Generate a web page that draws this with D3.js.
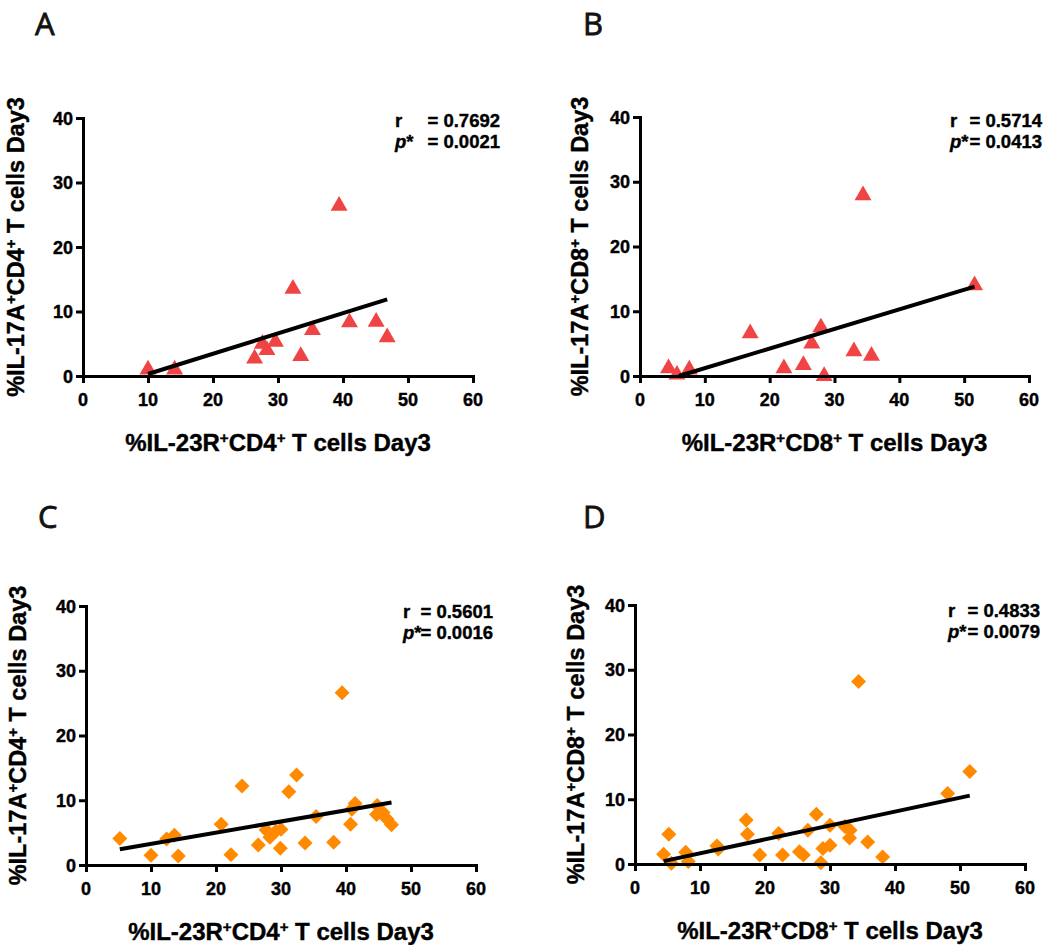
<!DOCTYPE html>
<html>
<head>
<meta charset="utf-8">
<script src="https://cdn.jsdelivr.net/npm/d3@7"></script>
<style>
  body { margin: 0; background: #fff; }
  svg { display: block; }
  .heavy { stroke: #000; stroke-width: 0.4px; }
</style>
</head>
<body>
<svg id="fig" width="1048" height="945"></svg>
<script>
// Axis ticks shared by all four panels
const xTicks = [0, 10, 20, 30, 40, 50, 60];
const yTicks = [0, 10, 20, 30, 40];

// A: IL-23R+CD4+ vs IL-17A+CD4+ (triangles)
const aX = [10.0, 14.1, 26.4, 27.6, 28.3, 29.6, 32.3, 33.5, 35.3, 39.4, 41.0, 45.1, 46.8];
const aY = [1.0, 1.0, 2.7, 5.0, 4.0, 5.3, 13.5, 3.1, 7.1, 26.4, 8.3, 8.4, 6.0];

// B: IL-23R+CD8+ vs IL-17A+CD8+ (triangles)
const bX = [4.4, 5.7, 7.6, 17.0, 22.2, 25.2, 26.5, 27.9, 28.4, 33.0, 35.7, 34.4, 51.6];
const bY = [1.2, 0.2, 1.0, 6.6, 1.2, 1.7, 5.0, 7.5, 0.0, 3.8, 3.1, 27.9, 14.0];

// C: IL-23R+CD4+ vs IL-17A+CD4+ (diamonds)
const cX = [5.2, 10.0, 12.4, 13.6, 14.2, 20.8, 22.3, 24.0, 26.5, 27.7, 28.3, 29.2, 30.0, 29.9,
            31.2, 32.4, 33.7, 35.4, 38.1, 39.4, 40.7, 40.9, 41.4, 44.7, 44.8, 45.7, 46.3, 47.0];
const cY = [4.1, 1.5, 4.0, 4.6, 1.4, 6.3, 1.6, 12.2, 3.1, 5.4, 4.3, 5.2, 5.5, 2.6,
            11.3, 13.9, 3.4, 7.5, 3.5, 26.6, 6.3, 8.6, 9.5, 7.8, 9.2, 8.1, 7.1, 6.2];

// D: IL-23R+CD8+ vs IL-17A+CD8+ (diamonds)
const dX = [4.4, 5.2, 5.6, 7.8, 8.2, 12.6, 12.8, 17.1, 17.3, 19.2, 22.1, 22.7, 25.3, 25.9,
            26.6, 27.9, 28.6, 28.9, 30.0, 30.0, 32.3, 33.1, 33.0, 34.4, 35.8, 38.1, 48.1, 51.5];
const dY = [1.5, 4.6, 0.1, 1.8, 0.4, 2.8, 2.3, 6.8, 4.6, 1.4, 4.7, 1.4, 1.9, 1.4,
            5.2, 7.7, 0.2, 2.4, 2.9, 6.0, 5.8, 5.2, 4.0, 28.2, 3.4, 1.1, 10.9, 14.3];

const panelLetters = ["A", "B", "C", "D"];
const rValues = ["0.7692", "0.5714", "0.5601", "0.4833"];
const pValues = ["0.0021", "0.0413", "0.0016", "0.0079"];
const cellTypes = ["CD4", "CD8", "CD4", "CD8"];
const markerKinds = ["triangle", "triangle", "diamond", "diamond"];

const series = [[aX, aY], [bX, bY], [cX, cY], [dX, dY]];

// Pixel frame of each panel
const frames = [
  { left: 83,  right: 473,  top: 118, bottom: 376, letterX: 35,  letterY: 35,  yTitleX: 24,  annL: 395, annR: 500,  annY: 127 },
  { left: 640, right: 1029, top: 117, bottom: 376, letterX: 583, letterY: 35,  yTitleX: 588, annL: 950, annR: 1042, annY: 127 },
  { left: 86,  right: 476,  top: 606, bottom: 865, letterX: 38,  letterY: 528, yTitleX: 26,  annL: 403, annR: 493,  annY: 618 },
  { left: 635, right: 1025, top: 605, bottom: 864, letterX: 583, letterY: 528, yTitleX: 584, annL: 948, annR: 1040, annY: 617 }
];

const colors = { triangle: "#F04444", diamond: "#FF8A00" };
const FONT = "Arial, 'Liberation Sans', Helvetica, sans-serif";

const svg = d3.select("#fig");

// Writes "%IL-17A+CD4+ T cells Day3"-style labels with raised plus signs
function labelParts(sel, parts) {
  parts.forEach(p => {
    if (p.sup) {
      sel.append("tspan").attr("dy", -8).style("font-size", "15px").text(p.t);
    } else {
      sel.append("tspan").attr("dy", p.after ? 8 : 0).text(p.t);
    }
  });
}

function fitLine(xs, ys) {
  const mx = d3.mean(xs), my = d3.mean(ys);
  let sxy = 0, sxx = 0;
  xs.forEach((x, i) => { sxy += (x - mx) * (ys[i] - my); sxx += (x - mx) * (x - mx); });
  const m = sxy / sxx, b = my - m * mx;
  let x0 = d3.min(xs), x1 = d3.max(xs);
  if (m * x0 + b < 0) x0 = -b / m;   // keep the fit above the x axis
  return [[x0, m * x0 + b], [x1, m * x1 + b]];
}

frames.forEach((f, i) => {
  const [xs, ys] = series[i];
  const x = d3.scaleLinear().domain([0, 60]).range([f.left, f.right]);
  const y = d3.scaleLinear().domain([0, 40]).range([f.bottom, f.top]);
  const g = svg.append("g");

  // data points
  const kind = markerKinds[i];
  const sym = kind === "triangle"
    ? d3.symbol().type(d3.symbolTriangle).size(125)
    : d3.symbol().type(d3.symbolSquare).size(112);
  g.append("g").selectAll("path")
    .data(xs.map((v, k) => [v, ys[k]]))
    .join("path")
    .attr("d", sym)
    .attr("fill", colors[kind])
    .attr("transform", d => `translate(${x(d[0])},${y(d[1])})` + (kind === "diamond" ? " rotate(45)" : ""));

  // least-squares fit
  const seg = fitLine(xs, ys);
  g.append("path")
    .attr("d", d3.line().x(d => x(d[0])).y(d => y(d[1]))(seg))
    .attr("stroke", "#000").attr("stroke-width", 4).attr("fill", "none");

  // axes: lines from d3-axis, labels written out below
  const xAxis = g.append("g").attr("transform", `translate(0,${f.bottom})`)
    .call(d3.axisBottom(x).tickValues(xTicks).tickSize(7).tickSizeOuter(0).tickFormat(""));
  const yAxis = g.append("g").attr("transform", `translate(${f.left},0)`)
    .call(d3.axisLeft(y).tickValues(yTicks).tickSize(7).tickSizeOuter(0).tickFormat(""));
  [xAxis, yAxis].forEach(a => {
    a.select(".domain").attr("stroke", "#000").attr("stroke-width", 3).attr("stroke-linecap", "square");
    a.selectAll(".tick line").attr("stroke", "#000").attr("stroke-width", 3);
  });

  const tickLab = g.append("g").attr("class", "heavy")
    .style("font-family", FONT).style("font-weight", "700").style("font-size", "18px").attr("fill", "#000");
  tickLab.selectAll("text.xt").data(xTicks).join("text").attr("class", "xt")
    .attr("x", d => x(d)).attr("y", f.bottom + 30).attr("text-anchor", "middle").text(d => d);
  tickLab.selectAll("text.yt").data(yTicks).join("text").attr("class", "yt")
    .attr("x", f.left - 10).attr("y", d => y(d) + 6.5).attr("text-anchor", "end").text(d => d);

  // axis titles
  const cell = cellTypes[i];
  const xt = g.append("text").attr("class", "heavy")
    .attr("x", (f.left + f.right) / 2).attr("y", f.bottom + 75)
    .attr("text-anchor", "middle")
    .style("font-family", FONT).style("font-weight", "bold").style("font-size", "24px");
  labelParts(xt, [{ t: "%IL-23R" }, { t: "+", sup: true }, { t: "C" + cell.slice(1), after: true }, { t: "+", sup: true }, { t: " T cells Day3", after: true }]);

  const yt = g.append("text").attr("class", "heavy")
    .attr("transform", `translate(${f.yTitleX},${(f.top + f.bottom) / 2}) rotate(-90)`)
    .attr("text-anchor", "middle")
    .style("font-family", FONT).style("font-weight", "bold").style("font-size", "23.5px");
  labelParts(yt, [{ t: "%IL-17A" }, { t: "+", sup: true }, { t: "C" + cell.slice(1), after: true }, { t: "+", sup: true }, { t: " T cells Day3", after: true }]);

  // statistics
  const ann = g.append("g").attr("class", "heavy")
    .style("font-family", FONT).style("font-weight", "bold").style("font-size", "18.5px");
  ann.append("text").attr("x", f.annL).attr("y", f.annY).text("r");
  ann.append("text").attr("x", f.annR).attr("y", f.annY).attr("text-anchor", "end").text("= " + rValues[i]);
  const pt = ann.append("text").attr("x", f.annL).attr("y", f.annY + 21);
  pt.append("tspan").style("font-style", "italic").text("p");
  pt.append("tspan").text("*");
  ann.append("text").attr("x", f.annR).attr("y", f.annY + 21).attr("text-anchor", "end").text("= " + pValues[i]);

  // panel letter
  svg.append("text").attr("x", f.letterX).attr("y", f.letterY)
    .style("font-family", "'Open Sans', sans-serif").style("font-size", "31px")
    .attr("fill", "#111").attr("stroke", "#111").attr("stroke-width", 0.8)
    .text(panelLetters[i]);
});
</script>
</body>
</html>
